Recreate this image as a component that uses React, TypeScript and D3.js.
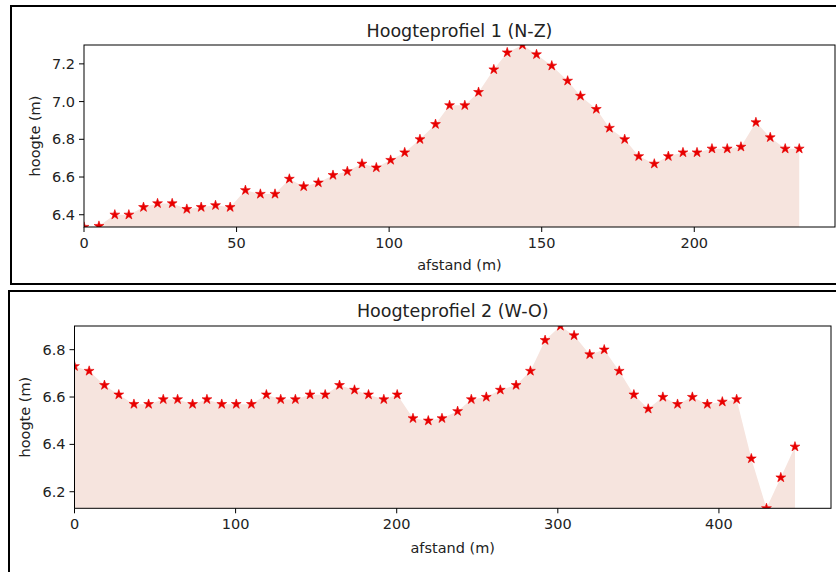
import React from "react";
import * as d3 from "d3";

// ---- Data: profile 1 (N-Z)
const afstand1 = [0, 4.9, 10.1, 14.7, 19.5, 24.1, 28.9, 33.7, 38.4, 43.1, 47.9, 52.9, 57.8, 62.6, 67.3, 72.0, 76.8, 81.6, 86.3, 91.1, 95.8, 100.5, 105.1, 110.1, 115.2, 119.8, 124.8, 129.3, 134.3, 138.7, 143.7, 148.3, 153.3, 158.5, 162.7, 167.9, 172.2, 177.2, 181.8, 186.9, 191.5, 196.3, 200.9, 205.8, 210.8, 215.3, 220.2, 224.9, 229.8, 234.4];
const hoogte1 = [6.335, 6.34, 6.40, 6.40, 6.44, 6.46, 6.46, 6.43, 6.44, 6.45, 6.44, 6.53, 6.51, 6.51, 6.59, 6.55, 6.57, 6.61, 6.63, 6.67, 6.65, 6.69, 6.73, 6.80, 6.88, 6.98, 6.98, 7.05, 7.17, 7.26, 7.30, 7.25, 7.19, 7.11, 7.03, 6.96, 6.86, 6.80, 6.71, 6.67, 6.71, 6.73, 6.73, 6.75, 6.75, 6.76, 6.89, 6.81, 6.75, 6.75];
const xTicks1 = [0, 50, 100, 150, 200];
const yTicks1 = [6.4, 6.6, 6.8, 7.0, 7.2];

// ---- Data: profile 2 (W-O)
const afstand2 = [0, 9.1, 18.6, 27.5, 36.9, 46.0, 55.1, 64.0, 73.3, 82.2, 91.4, 100.4, 109.8, 119.1, 128.0, 137.1, 146.2, 155.6, 164.5, 173.8, 182.5, 192.0, 200.3, 210.1, 219.6, 228.1, 237.8, 246.3, 255.6, 264.3, 274.1, 283.0, 292.1, 301.6, 310.1, 319.8, 328.8, 338.1, 347.2, 356.1, 365.2, 374.3, 383.5, 392.8, 402.1, 411.0, 420.1, 429.5, 438.4, 447.2];
const hoogte2 = [6.73, 6.71, 6.65, 6.61, 6.57, 6.57, 6.59, 6.59, 6.57, 6.59, 6.57, 6.57, 6.57, 6.61, 6.59, 6.59, 6.61, 6.61, 6.65, 6.63, 6.61, 6.59, 6.61, 6.51, 6.50, 6.51, 6.54, 6.59, 6.60, 6.63, 6.65, 6.71, 6.84, 6.90, 6.86, 6.78, 6.80, 6.71, 6.61, 6.55, 6.60, 6.57, 6.60, 6.57, 6.58, 6.59, 6.34, 6.13, 6.26, 6.39];
const xTicks2 = [0, 100, 200, 300, 400];
const yTicks2 = [6.2, 6.4, 6.6, 6.8];

const FONT = "'DejaVu Sans', sans-serif";
const FILL = "#f6e4de";
const STAR = "#e80000";

type PanelProps = {
  id: string;
  title: string;
  xs: number[];
  ys: number[];
  xTicks: number[];
  yTicks: number[];
  left: number;
  right: number;
  top: number;
  bottom: number;
  titleY: number;
  ylabelX: number;
  xlabelY: number;
};

function Panel(p: PanelProps) {
  const xMax = d3.max(p.xs) as number;
  const [yMin, yMax] = d3.extent(p.ys) as [number, number];
  const x = d3.scaleLinear().domain([0, xMax * 1.05]).range([p.left, p.right]);
  const y = d3.scaleLinear().domain([yMin, yMax]).range([p.bottom, p.top]);
  const pts = p.xs.map((d, i) => [d, p.ys[i]] as [number, number]);
  const area = d3
    .area<[number, number]>()
    .x((d) => x(d[0]))
    .y0(y(yMin) + 20)
    .y1((d) => y(d[1]));
  const star = d3.symbol().type(d3.symbolStar).size(30)();
  const fmt = d3.format(".1f");
  const cx = (p.left + p.right) / 2;
  const cy = (p.top + p.bottom) / 2;
  return (
    <g>
      <defs>
        <clipPath id={p.id}>
          <rect x={p.left} y={p.top} width={p.right - p.left} height={p.bottom - p.top} />
        </clipPath>
      </defs>
      <g clipPath={`url(#${p.id})`}>
        <path d={area(pts) || ""} fill={FILL} stroke="none" />
        {pts.map((d, i) => (
          <path key={i} d={star || ""} transform={`translate(${x(d[0])},${y(d[1])})`} fill={STAR} stroke={STAR} strokeWidth={0.6} />
        ))}
      </g>
      <rect x={p.left} y={p.top} width={p.right - p.left} height={p.bottom - p.top} fill="none" stroke="#000" strokeWidth={1} />
      {p.xTicks.map((t) => (
        <g key={"x" + t}>
          <line x1={x(t)} x2={x(t)} y1={p.bottom} y2={p.bottom + 5} stroke="#000" />
          <text x={x(t)} y={p.bottom + 21} textAnchor="middle" fontSize={14.5} fontFamily={FONT} fill="#222">{t}</text>
        </g>
      ))}
      {p.yTicks.map((t) => (
        <g key={"y" + t}>
          <line x1={p.left - 5} x2={p.left} y1={y(t)} y2={y(t)} stroke="#000" />
          <text x={p.left - 9} y={y(t) + 5} textAnchor="end" fontSize={14.5} fontFamily={FONT} fill="#222">{fmt(t)}</text>
        </g>
      ))}
      <text x={cx} y={p.titleY} textAnchor="middle" fontSize={17.5} fontFamily={FONT} fill="#222">{p.title}</text>
      <text x={cx} y={p.xlabelY} textAnchor="middle" fontSize={14.5} fontFamily={FONT} fill="#222">afstand (m)</text>
      <text transform={`translate(${p.ylabelX},${cy}) rotate(-90)`} textAnchor="middle" fontSize={14.5} fontFamily={FONT} fill="#222">hoogte (m)</text>
    </g>
  );
}

export default function App() {
  return (
    <svg width={836} height={572} style={{ position: "absolute", left: 0, top: 0, background: "#fff" }}>
      <rect x={0} y={0} width={836} height={572} fill="#fff" />
      <rect x={11} y={6} width={840} height={278} fill="none" stroke="#000" strokeWidth={2} />
      <rect x={9} y={291} width={840} height={300} fill="none" stroke="#000" strokeWidth={2} />
      <Panel id="c1" title="Hoogteprofiel 1 (N-Z)" xs={afstand1} ys={hoogte1} xTicks={xTicks1} yTicks={yTicks1}
        left={84} right={835} top={45} bottom={227} titleY={37} ylabelX={40} xlabelY={270} />
      <Panel id="c2" title="Hoogteprofiel 2 (W-O)" xs={afstand2} ys={hoogte2} xTicks={xTicks2} yTicks={yTicks2}
        left={74.5} right={831} top={326} bottom={508.3} titleY={317} ylabelX={30} xlabelY={553} />
    </svg>
  );
}
